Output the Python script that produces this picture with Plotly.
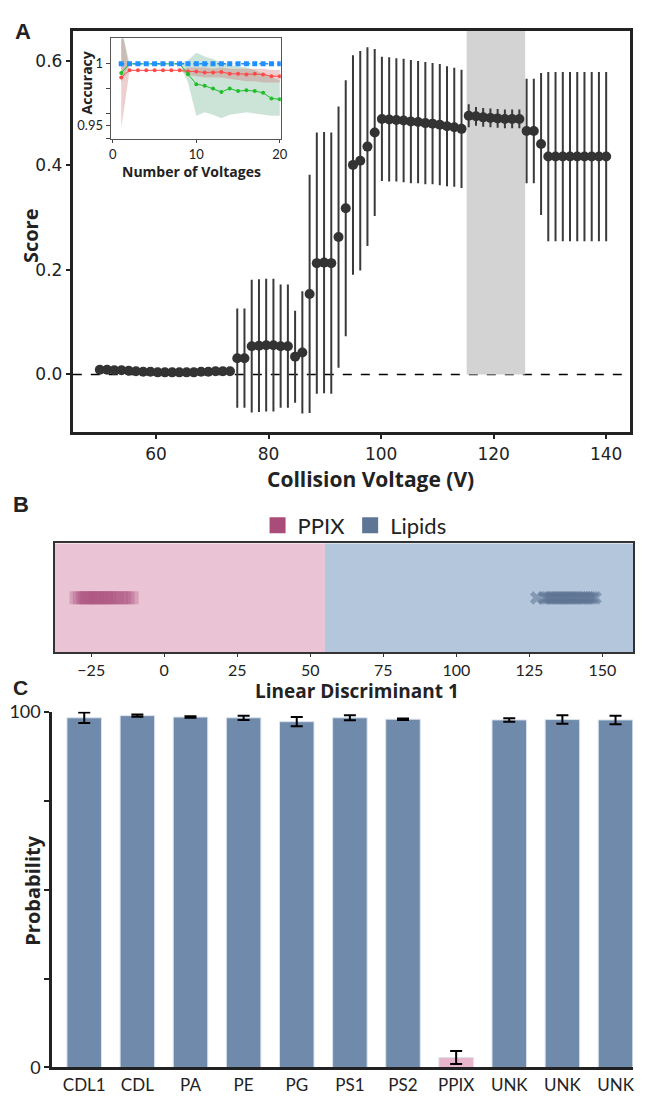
import plotly.graph_objects as go

W, H = 645, 1101
def px(x): return x / W
def py(y): return 1 - y / H

# ---------------- Panel A data ----------------
voltages = [50.00, 51.29, 52.57, 53.86, 55.14, 56.43, 57.71, 59.00, 60.29, 61.57,
            62.86, 64.14, 65.43, 66.71, 68.00, 69.29, 70.57, 71.86, 73.14, 74.43,
            75.71, 77.00, 78.29, 79.57, 80.86, 82.14, 83.43, 84.71, 86.00, 87.29,
            88.57, 89.86, 91.14, 92.43, 93.71, 95.00, 96.29, 97.57, 98.86, 100.14,
            101.43, 102.71, 104.00, 105.29, 106.57, 107.86, 109.14, 110.43, 111.71, 113.00,
            114.29, 115.57, 116.86, 118.14, 119.43, 120.71, 122.00, 123.29, 124.57, 125.86,
            127.14, 128.43, 129.71, 131.00, 132.29, 133.57, 134.86, 136.14, 137.43, 138.71,
            140.00]
scores = [0.009, 0.009, 0.008, 0.008, 0.007, 0.006, 0.005, 0.005, 0.004, 0.004,
          0.004, 0.004, 0.004, 0.004, 0.005, 0.005, 0.006, 0.006, 0.006,
          0.031, 0.031,
          0.054, 0.055, 0.056, 0.056, 0.054, 0.054,
          0.034, 0.042, 0.154,
          0.213, 0.214, 0.213,
          0.263, 0.318, 0.401, 0.409, 0.436, 0.463,
          0.489, 0.488, 0.487, 0.486, 0.484, 0.483, 0.481, 0.480, 0.478, 0.475, 0.473, 0.470,
          0.495, 0.494, 0.492, 0.491, 0.490, 0.489, 0.489, 0.489,
          0.466, 0.466, 0.441,
          0.417, 0.417, 0.417, 0.417, 0.417, 0.417, 0.417, 0.417, 0.417]
score_err = [0.002] * 19 + [0.095, 0.095,
             0.127, 0.127, 0.127, 0.127, 0.118, 0.118,
             0.088, 0.117, 0.228,
             0.250, 0.250, 0.250,
             0.250, 0.245, 0.210, 0.210, 0.190, 0.160,
             0.119, 0.119, 0.118, 0.118, 0.118, 0.117, 0.117, 0.116, 0.116, 0.115, 0.114, 0.113,
             0.022, 0.018, 0.018, 0.018, 0.018, 0.018, 0.018, 0.018,
             0.100, 0.100, 0.136,
             0.162, 0.162, 0.162, 0.162, 0.162, 0.162, 0.162, 0.162, 0.162]
highlight_range = [115.2, 125.6]

# ---------------- Inset data ----------------
n_voltages = list(range(1, 21))
acc_blue = [1.0] * 20
acc_green = [0.9927, 1, 1, 1, 1, 1, 1, 1, 0.9917, 0.9836, 0.9823, 0.980, 0.9773, 0.980,
             0.978, 0.9786, 0.978, 0.9766, 0.9721, 0.9714]
green_upper = [1.03, 1.0, 1.0, 1.0, 1.0, 1.0, 1.0, 1.0, 1.003, 1.009, 1.006, 1.004, 1.001,
               0.999, 0.998, 0.997, 0.995, 0.992, 0.989, 0.987]
green_lower = [0.985, 1.0, 1.0, 1.0, 1.0, 1.0, 1.0, 1.0, 0.985, 0.958, 0.961, 0.959, 0.956,
               0.959, 0.960, 0.961, 0.960, 0.959, 0.958, 0.958]
acc_red = [0.989, 0.9948, 0.9948, 0.9948, 0.9948, 0.9948, 0.9948, 0.9948, 0.9938, 0.9938,
           0.993, 0.993, 0.9935, 0.992, 0.992, 0.9915, 0.992, 0.9915, 0.990, 0.990]
red_upper = [1.03] + [0.995] * 7 + [0.997, 0.997, 0.997, 0.996, 0.997, 0.996, 0.996, 0.996,
                                   0.996, 0.996, 0.995, 0.995]
red_lower = [0.948] + [0.9945] * 7 + [0.991, 0.990, 0.989, 0.989, 0.989, 0.988, 0.987, 0.986,
                                     0.986, 0.985, 0.985, 0.985]

# ---------------- Panel B data ----------------
ppix_ld = [-30.2, -29.1, -28.0, -27.2, -26.5, -25.8, -25.0, -24.1, -23.5, -22.8, -22.0,
           -21.2, -20.3, -19.5, -18.7, -17.9, -16.8, -15.9, -14.7, -13.6, -12.4, -11.0]
lipid_ld = [127.5, 130.2, 131.0, 131.8, 132.5, 133.1, 133.9, 134.6, 135.2, 135.9, 136.5,
            137.2, 137.9, 138.5, 139.2, 139.9, 140.6, 141.3, 142.0, 142.8, 143.5, 144.2,
            145.0, 145.8, 146.6, 147.5]
decision_boundary = 55.0
ld_range = [-37.4, 160.5]
ld_ticks = [-25, 0, 25, 50, 75, 100, 125, 150]

# ---------------- Panel C data ----------------
classes = ["CDL1", "CDL", "PA", "PE", "PG", "PS1", "PS2", "PPIX", "UNK", "UNK", "UNK"]
probs = [98.3, 98.9, 98.5, 98.3, 97.2, 98.3, 97.9, 2.8, 97.7, 97.8, 97.7]
prob_err = [1.5, 0.3, 0.2, 0.6, 1.3, 0.7, 0.2, 1.8, 0.5, 1.2, 1.2]

DARK = "#333333"
PINK_BG = "#eac4d5"
BLUE_BG = "#b3c6dc"
PPIX_C = "#a94c79"
LIPID_C = "#5e7593"
BAR_BLUE = "#6f8aab"
BAR_PINK = "#e8b6cc"

fig = go.Figure()

# Panel A
fig.add_trace(go.Scatter(
    x=voltages, y=scores, mode="markers", xaxis="x", yaxis="y",
    marker=dict(size=10, color=DARK),
    error_y=dict(type="data", array=score_err, color="#3a3a3a", thickness=2, width=0),
    showlegend=False))

# Inset
fig.add_trace(go.Scatter(x=n_voltages, y=green_upper, mode="lines", line=dict(width=0),
                         xaxis="x2", yaxis="y2", showlegend=False, hoverinfo="skip"))
fig.add_trace(go.Scatter(x=n_voltages, y=green_lower, mode="lines", line=dict(width=0),
                         fill="tonexty", fillcolor="rgba(110,175,140,0.35)",
                         xaxis="x2", yaxis="y2", showlegend=False, hoverinfo="skip"))
fig.add_trace(go.Scatter(x=n_voltages, y=red_upper, mode="lines", line=dict(width=0),
                         xaxis="x2", yaxis="y2", showlegend=False, hoverinfo="skip"))
fig.add_trace(go.Scatter(x=n_voltages, y=red_lower, mode="lines", line=dict(width=0),
                         fill="tonexty", fillcolor="rgba(200,105,105,0.32)",
                         xaxis="x2", yaxis="y2", showlegend=False, hoverinfo="skip"))
fig.add_trace(go.Scatter(x=n_voltages, y=acc_red, mode="lines+markers",
                         line=dict(color="#ff4a4a", width=1), marker=dict(size=4, color="#ff4a4a"),
                         xaxis="x2", yaxis="y2", showlegend=False))
fig.add_trace(go.Scatter(x=n_voltages, y=acc_green, mode="lines+markers",
                         line=dict(color="#1fbf2a", width=1), marker=dict(size=4, color="#1fbf2a"),
                         xaxis="x2", yaxis="y2", showlegend=False))
fig.add_trace(go.Scatter(x=n_voltages, y=acc_blue, mode="lines+markers",
                         line=dict(color="#1e90ff", width=1.5, dash="dot"),
                         marker=dict(size=5, symbol="square", color="#1e90ff"),
                         xaxis="x2", yaxis="y2", showlegend=False))

# Panel B
fig.add_trace(go.Scatter(x=ppix_ld, y=[0] * len(ppix_ld), mode="markers",
                         marker=dict(symbol="square", size=13, color=PPIX_C, opacity=0.3,
                                     line=dict(width=0)),
                         xaxis="x3", yaxis="y3", showlegend=False))
fig.add_trace(go.Scatter(x=lipid_ld, y=[0] * len(lipid_ld), mode="markers",
                         marker=dict(symbol="x", size=12, color=LIPID_C, opacity=0.55,
                                     line=dict(width=0)),
                         xaxis="x3", yaxis="y3", showlegend=False))
# legend entries
fig.add_trace(go.Scatter(x=[None], y=[None], mode="markers", name="PPIX",
                         marker=dict(symbol="square", size=20, color=PPIX_C),
                         xaxis="x3", yaxis="y3"))
fig.add_trace(go.Scatter(x=[None], y=[None], mode="markers", name="Lipids",
                         marker=dict(symbol="square", size=20, color=LIPID_C),
                         xaxis="x3", yaxis="y3"))

# Panel C
xpos = list(range(len(classes)))
bar_colors = [BAR_PINK if c == "PPIX" else BAR_BLUE for c in classes]
fig.add_trace(go.Bar(x=xpos, y=probs, width=0.65, xaxis="x4", yaxis="y4",
                     marker=dict(color=bar_colors, line=dict(color="#dbe3ee", width=1)),
                     error_y=dict(type="data", array=prob_err, color="black", thickness=2, width=6),
                     showlegend=False))

TICKFONT_A = dict(family="DejaVu Sans", size=17, color="#222")
fig.update_layout(
    width=W, height=H, margin=dict(l=0, r=0, t=0, b=0),
    paper_bgcolor="white", plot_bgcolor="white",
    font=dict(family="Open Sans", color="#222"),
    xaxis=dict(domain=[px(72.7), px(636.7)], anchor="y", range=[45.2, 144.2],
               tickvals=[60, 80, 100, 120, 140], ticks="outside", ticklen=4, tickwidth=2,
               tickcolor="#222", showline=True, mirror=True, linewidth=3, linecolor="#222",
               showgrid=False, zeroline=False, tickfont=TICKFONT_A),
    yaxis=dict(domain=[py(429), py(19)], anchor="x", range=[-0.111, 0.658],
               tickvals=[0, 0.2, 0.4, 0.6], tickformat=".1f", ticks="outside", ticklen=4,
               tickwidth=2, tickcolor="#222", showline=True, mirror=True, linewidth=3,
               linecolor="#222", showgrid=False, zeroline=False, tickfont=TICKFONT_A),
    xaxis2=dict(domain=[px(111), px(283.3)], anchor="y2", range=[-0.27, 20.12],
                tickvals=[0, 10, 20], ticks="outside", ticklen=3, tickcolor="#444",
                showline=True, mirror=True, linewidth=1, linecolor="#555",
                showgrid=False, zeroline=False, ticklabelstandoff=0,
                tickfont=dict(family="Lato", size=13, color="#222")),
    yaxis2=dict(domain=[py(130), py(27)], anchor="x2", range=[0.939, 1.0205],
                tickvals=[0.94, 0.95, 0.96, 0.98, 1.0], ticktext=["", "0.95", "", "", "1"],
                ticks="outside", ticklen=4, tickcolor="#444", showline=True, mirror=True,
                linewidth=1, linecolor="#555", showgrid=False, zeroline=False,
                ticklabelstandoff=0, tickfont=dict(family="Lato", size=13, color="#222")),
    xaxis3=dict(domain=[px(54.7), px(640)], anchor="y3", range=ld_range, tickvals=ld_ticks,
                ticks="outside", ticklen=3, tickcolor="#333", showline=True, mirror=True,
                linewidth=1.5, linecolor="#333", showgrid=False, zeroline=False,
                ticklabelstandoff=0, tickfont=dict(family="Lato", size=16, color="#222")),
    yaxis3=dict(domain=[py(653.3), py(542.3)], anchor="x3", range=[-1, 1],
                showticklabels=False, ticks="", showline=True, mirror=True, linewidth=1.5,
                linecolor="#333", showgrid=False, zeroline=False),
    xaxis4=dict(domain=[px(52), px(640)], anchor="y4", range=[-0.6, 10.33],
                tickvals=xpos, ticktext=classes, ticks="", showline=True, linewidth=3,
                linecolor="#222", showgrid=False, zeroline=False,
                tickfont=dict(family="Lato", size=17, color="#222")),
    yaxis4=dict(domain=[py(1077), py(714)], anchor="x4", range=[0, 100],
                tickvals=[0, 25, 50, 75, 100], ticktext=["0", "", "", "", "100"],
                ticks="outside", ticklen=5, tickwidth=2, tickcolor="#222", showline=True,
                linewidth=3, linecolor="#222", showgrid=False, zeroline=False,
                tickfont=dict(family="Lato", size=18, color="#222")),
    legend=dict(orientation="h", traceorder="normal", x=px(358), xanchor="center",
                y=py(524), yanchor="middle",
                font=dict(family="Lato", size=22, color="#222"), bgcolor="rgba(0,0,0,0)",
                itemwidth=30, tracegroupgap=0),
    shapes=[
        dict(type="rect", xref="x", yref="y", x0=highlight_range[0], x1=highlight_range[1],
             y0=0, y1=0.658, fillcolor="#d3d3d3", line=dict(width=0), layer="below"),
        dict(type="line", xref="x domain", yref="y", x0=0, x1=1, y0=0, y1=0,
             line=dict(color="black", width=1.5, dash="dash"), layer="below"),
        dict(type="rect", xref="x3", yref="y3 domain", x0=ld_range[0], x1=decision_boundary,
             y0=0, y1=1, fillcolor=PINK_BG, line=dict(width=0), layer="below"),
        dict(type="rect", xref="x3", yref="y3 domain", x0=decision_boundary, x1=ld_range[1],
             y0=0, y1=1, fillcolor=BLUE_BG, line=dict(width=0), layer="below"),
    ],
)

def label(text, x, y, size, angle=0, family="Open Sans", bold=True):
    fig.add_annotation(text=f"<b>{text}</b>" if bold else text, x=px(x), y=py(y),
                       xref="paper", yref="paper", showarrow=False, textangle=angle,
                       xanchor="center", yanchor="middle",
                       font=dict(family=family, size=size, color="#222"))

label("A", 22, 20, 22, family="Liberation Sans")
label("B", 20, 503, 22, family="Liberation Sans")
label("C", 20, 689, 21, family="Liberation Sans")
label("Score", 30, 228, 20, angle=-90)
label("Collision Voltage (V)", 374, 477, 21)
label("Accuracy", 87, 72, 14, angle=-90)
label("Number of Voltages", 193, 163, 14)
label("Linear Discriminant 1", 360, 693, 19)
label("Probability", 31, 897, 20, angle=-90)

fig.write_html("out.html")
